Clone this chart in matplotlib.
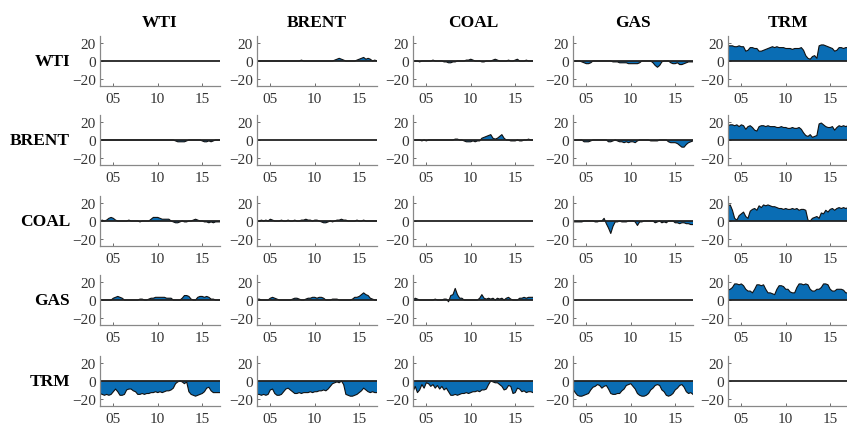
#!/usr/bin/env python3
"""Pairwise net spillover grid (rows -> columns), 2003-2017."""

import numpy as np
import matplotlib.pyplot as plt

MARKETS = ["WTI", "BRENT", "COAL", "GAS", "TRM"]
YEAR_TICKS = [2005, 2010, 2015]
YEAR_LABELS = ["05", "10", "15"]
Y_TICKS = [-20, 0, 20]

# quarterly grid, 2003.5 .. 2017.0
DATES = np.arange(2003.5, 2017.01, 0.25)

# row WTI
WTI_BRENT = [0, 0, 0, 0, 0, 0, 0, 0, 0, 0, 0, 0, 0, 0, 0, 0, 0, 0, 0, 0, 1, 0,
             0, 0, 0, 0, 0, 0, 0, 0, 0, 0, 0, 0, 0, 1, 2, 3, 2, 1, 0, 0, 0,
             0, 0, 1, 2, 3, 4, 2, 3, 2, 0, 1, 0]
WTI_COAL = [0, 0, 0, -1, 0, 0, 0, 0, 0, 1, 0, 0, 0, 0, -1, -1, -2, -2, -1, -1,
            0, 0, 0, 0, 1, 1, 2, 1, 0, 0, 0, -1, -1, 0, 0, 0, 1, 2, 1, 0, 0,
            0, 0, 1, 0, 0, 1, 2, 0, 0, 0, 1, 0, 0, 0]
WTI_GAS = [0, 0, 0, 0, -1, -2, -3, -3, -2, 0, 0, 0, 0, 0, 0, 0, 0, 0, -1, -1,
           -1, -2, -2, -2, -2, -3, -3, -3, -3, -3, -2, 0, 0, 0, 0, 0, -2, -5,
           -7, -5, -1, 0, 0, 0, -2, -3, -3, -2, -4, -4, -3, -2, -1, -1, -1]
WTI_TRM = [17, 17, 17, 16, 16, 17, 16, 16, 11, 12, 15, 15, 14, 14, 11, 11, 12,
           13, 14, 15, 16, 15, 16, 15, 15, 15, 14, 14, 14, 13, 14, 14, 14, 15,
           12, 6, 3, 2, 5, 6, 3, 17, 18, 18, 17, 16, 15, 14, 11, 12, 15, 15,
           14, 15, 15]

# row BRENT
BRENT_WTI = [0, 0, 0, 0, 0, 0, 0, 0, 0, 0, 0, 0, 0, 0, 0, 0, 0, 0, 0, 0, 0, 0,
             0, 0, 0, 0, 0, 0, 0, 0, 0, 0, 0, 0, -1, -2, -2, -2, -2, -1, 0, 0,
             0, 0, 0, 0, -1, -2, -2, -1, -2, -1, 0, 0, 0]
BRENT_COAL = [0, 0, 0, 0, -1, 0, -1, 0, 0, 0, 0, 0, 0, 0, 0, 0, 0, 0, 0, 1, 1,
              0, 0, -1, -2, -2, -2, -1, -2, -1, -1, 2, 3, 4, 5, 6, 2, 1, 2, 4,
              6, 2, 0, 0, -1, -1, -1, 0, -1, -1, 0, 0, 1, 0, 0]
BRENT_GAS = [0, 0, 0, 0, 0, -2, -2, -2, -1, 0, 0, 0, 0, 0, 0, 0, -2, -2, -1, 0,
             -1, -2, -2, -3, -2, -3, -2, -2, -3, -1, 0, 0, 0, 0, 0, -1, -1, -1,
             -1, 0, 0, 0, 0, -2, -3, -3, -3, -4, -6, -8, -8, -5, -3, -2, -1]
BRENT_TRM = [16, 17, 17, 16, 17, 15, 17, 16, 12, 15, 16, 14, 11, 10, 15, 16, 16,
             15, 16, 15, 15, 15, 14, 14, 15, 14, 14, 13, 13, 14, 13, 13, 14, 12,
             8, 5, 4, 6, 3, 4, 5, 18, 19, 17, 15, 14, 14, 15, 11, 14, 16, 15,
             16, 15, 16]

# row COAL
COAL_WTI = [0, 1, 0, 1, 3, 4, 3, 1, 0, 0, 0, 0, 0, 1, 0, 0, 0, 0, -1, 0, 0, 0,
            0, 2, 4, 4, 4, 3, 2, 2, 2, 2, 0, -1, -2, -2, -1, 0, -1, -1, 0, 0,
            1, 2, 1, 0, 0, -1, -1, -2, -1, -2, -1, -1, -1]
COAL_BRENT = [0, 0, 1, 0, 1, 0, 2, 1, 0, 0, 0, 1, 0, 0, 1, 0, 0, 1, 0, 0, 1, 1,
              2, 1, 1, 0, 1, 1, 0, -1, -2, -2, -1, 0, -1, 0, 1, 1, 2, 1, 1, 0,
              0, 0, 0, 1, 0, 0, 1, 0, 0, 0, 0, 0, 0]
COAL_GAS = [-1, -1, -1, -1, -1, 0, 0, 0, 0, 0, -1, -1, 0, 0, 3, -3, -8, -14, -6,
            -1, -1, 0, -1, -1, -1, 0, 0, 0, -1, -5, -1, -1, 0, 0, 0, 0, 0, -2,
            -1, 0, -2, -1, -2, 0, 0, 0, -2, -2, -3, -2, -2, -3, -3, -4, -4]
COAL_TRM = [17, 18, 12, 3, 1, 6, 8, 10, 5, 3, 11, 13, 14, 12, 17, 15, 18, 17,
            18, 17, 16, 16, 15, 14, 14, 13, 14, 13, 13, 14, 13, 14, 12, 13, 13,
            12, 1, 0, 3, 4, 5, 3, 9, 8, 12, 10, 13, 14, 12, 14, 15, 14, 15, 14,
            15]

# row GAS
GAS_WTI = [1, 0, 0, 0, 0, 0, 2, 3, 4, 3, 2, 0, 0, 0, 0, 0, 0, 0, 1, 1, 0, 0, 1,
           2, 2, 3, 3, 3, 3, 3, 2, 2, 2, 0, 0, 0, 0, 2, 5, 5, 4, 1, 0, 0, 3, 4,
           4, 3, 4, 3, 1, 1, 0, 0, 0]
GAS_BRENT = [1, 1, 0, 0, 0, 0, 2, 3, 2, 1, 0, 0, 0, 0, 0, 0, 1, 2, 2, 1, 0, 0,
             1, 2, 2, 3, 3, 2, 3, 3, 2, 0, 0, 0, 1, 1, 1, 0, 0, 0, 0, 0, 0, 1,
             3, 3, 4, 6, 8, 6, 5, 2, 1, 0, 0]
GAS_COAL = [0, 2, 1, 0, 0, 0, 0, 0, 0, 0, 1, 0, 0, 0, 1, 1, -2, 5, 6, 13, 6, 2,
            2, 0, 0, 0, 0, 0, 0, 0, 2, 6, 2, 1, 2, 1, 2, 0, 2, 1, 2, 0, 2, 3, 1,
            0, 0, 0, 2, 2, 3, 2, 3, 3, 3]
GAS_TRM = [11, 12, 14, 18, 18, 17, 18, 16, 12, 10, 10, 8, 12, 17, 17, 16, 17,
           12, 8, 8, 7, 6, 12, 16, 16, 15, 12, 12, 9, 8, 8, 14, 18, 18, 17, 18,
           17, 12, 10, 10, 12, 12, 14, 18, 18, 17, 12, 10, 10, 12, 12, 12, 11,
           8, 8]

# row TRM
TRM_WTI = [-14, -15, -16, -15, -16, -15, -12, -9, -12, -16, -16, -15, -10, -9,
           -9, -11, -12, -15, -15, -14, -15, -14, -14, -13, -13, -12, -13, -12,
           -13, -12, -11, -11, -10, -8, -3, -1, 0, -1, -3, -1, -12, -15, -16,
           -17, -16, -15, -14, -12, -8, -7, -11, -13, -13, -13, -13]
TRM_BRENT = [-15, -15, -16, -15, -16, -15, -10, -9, -14, -16, -16, -15, -12,
             -9, -8, -10, -12, -14, -14, -13, -14, -13, -13, -13, -12, -13,
             -12, -12, -11, -11, -10, -11, -9, -6, -3, -2, -1, -2, 0, -4, -15,
             -16, -17, -17, -16, -15, -13, -11, -8, -10, -12, -13, -12, -13,
             -13]
TRM_COAL = [-12, -6, -13, -10, -4, -8, -2, -3, -6, -4, -8, -5, -9, -6, -10, -8,
            -12, -16, -16, -15, -16, -15, -14, -14, -13, -14, -13, -12, -12,
            -11, -12, -10, -10, -9, -4, 0, -1, -2, -2, -4, -6, -10, -9, -5, -6,
            -14, -13, -8, -9, -12, -11, -13, -12, -12, -13]
TRM_GAS = [-9, -13, -16, -17, -17, -16, -15, -14, -10, -7, -6, -4, -5, -8, -6,
           -5, -9, -14, -15, -15, -14, -14, -11, -9, -5, -4, -3, -6, -9, -14,
           -16, -17, -17, -16, -14, -10, -8, -5, -4, -5, -10, -12, -16, -17,
           -16, -14, -10, -8, -5, -4, -7, -12, -14, -13, -15]

PAIRS = {
    (0, 1): WTI_BRENT, (0, 2): WTI_COAL, (0, 3): WTI_GAS, (0, 4): WTI_TRM,
    (1, 0): BRENT_WTI, (1, 2): BRENT_COAL, (1, 3): BRENT_GAS, (1, 4): BRENT_TRM,
    (2, 0): COAL_WTI, (2, 1): COAL_BRENT, (2, 3): COAL_GAS, (2, 4): COAL_TRM,
    (3, 0): GAS_WTI, (3, 1): GAS_BRENT, (3, 2): GAS_COAL, (3, 4): GAS_TRM,
    (4, 0): TRM_WTI, (4, 1): TRM_BRENT, (4, 2): TRM_COAL, (4, 3): TRM_GAS,
}

# layout in pixels of the 847x427 figure
W, H = 847, 427
COL_LEFT = [100, 257, 413, 573, 728]
ROW_TOP = [37, 116, 197, 276, 357]
AX_W, AX_H = 120, 50

FILL = "#0a6db4"
SERIF = ["Liberation Serif", "DejaVu Serif"]

plt.rcParams["font.family"] = SERIF

fig = plt.figure(figsize=(W / 100, H / 100), dpi=100)

for r, row_name in enumerate(MARKETS):
    for c, col_name in enumerate(MARKETS):
        ax = fig.add_axes([COL_LEFT[c] / W, 1 - (ROW_TOP[r] + AX_H) / H,
                           AX_W / W, AX_H / H])
        vals = PAIRS.get((r, c))
        if vals is not None:
            y = np.asarray(vals, dtype=float)
            assert len(y) == len(DATES), (row_name, col_name, len(y))
            ax.fill_between(DATES, 0, y, facecolor=FILL, edgecolor="none")
            ax.plot(DATES, y, color="#111111", lw=0.8)
        ax.axhline(0, color="#222222", lw=1.3)
        ax.set_xlim(DATES[0], DATES[-1])
        ax.set_ylim(-28, 28)
        ax.set_xticks(YEAR_TICKS)
        ax.set_xticklabels(YEAR_LABELS)
        ax.set_yticks(Y_TICKS)
        ax.tick_params(labelsize=11, colors="#555555", direction="in",
                       length=2, width=0.6)
        ax.tick_params(axis="x", pad=4)
        ax.tick_params(axis="y", pad=3)
        for lbl in ax.get_xticklabels() + ax.get_yticklabels():
            lbl.set_color("#333333")
        for side in ("top", "right"):
            ax.spines[side].set_visible(False)
        for side in ("left", "bottom"):
            ax.spines[side].set_color("#888888")
            ax.spines[side].set_linewidth(0.9)
        if r == 0:
            ax.set_title(col_name, fontsize=12.5, fontweight="bold", pad=7)

for r, row_name in enumerate(MARKETS):
    fig.text(70 / W, 1 - (ROW_TOP[r] + AX_H / 2) / H, row_name,
             ha="right", va="center", fontsize=12.5, fontweight="bold")

fig.savefig("out.png", dpi=100)
plt.close(fig)
